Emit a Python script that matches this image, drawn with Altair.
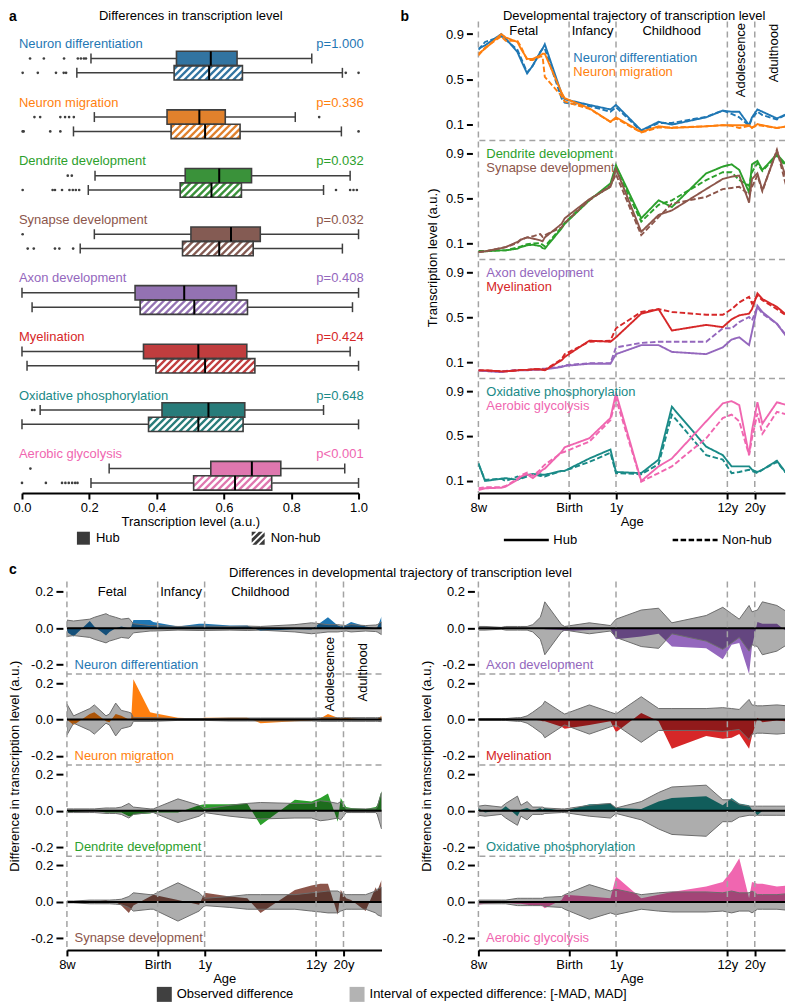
import colorsys
import altair as alt
import pandas as pd

# ------------------------------------------------------------------ data
groups = ["Neuron differentiation", "Neuron migration", "Dendrite development",
          "Synapse development", "Axon development", "Myelination",
          "Oxidative phosphorylation", "Aerobic glycolysis"]
series_colors = ["#1f77b4", "#ff7f0e", "#2ca02c", "#8c564b",
                 "#9467bd", "#d62728", "#1a8a87", "#f066b0"]
p_values = ["p=1.000", "p=0.336", "p=0.032", "p=0.032",
            "p=0.408", "p=0.424", "p=0.648", "p<0.001"]
kinds = ["Hub", "Non-hub"]
titles = ["Differences in transcription level",
          "Developmental trajectory of transcription level",
          "Differences in developmental trajectory of transcription level"]

# panel a: box-plot summaries
hub_q1 = [0.459, 0.431, 0.485, 0.502, 0.336, 0.361, 0.416, 0.561]
hub_median = [0.561, 0.527, 0.586, 0.621, 0.482, 0.524, 0.554, 0.683]
hub_q3 = [0.639, 0.604, 0.682, 0.708, 0.637, 0.668, 0.662, 0.769]
hub_whisker_low = [0.205, 0.215, 0.217, 0.215, 0.0, 0.0, 0.054, 0.259]
hub_whisker_high = [0.861, 0.812, 0.975, 1.0, 1.0, 0.975, 0.896, 0.959]
hub_outliers = [[0.024, 0.065, 0.125, 0.166, 0.175, 0.184, 0.19],
                [0.037, 0.054, 0.114, 0.128, 0.140, 0.154, 0.883],
                [0.136, 0.148], [0.002], [], [], [0.030, 0.037], [0.025]]
nonhub_q1 = [0.452, 0.443, 0.470, 0.477, 0.351, 0.398, 0.376, 0.510]
nonhub_median = [0.556, 0.544, 0.563, 0.586, 0.512, 0.544, 0.524, 0.633]
nonhub_q3 = [0.655, 0.648, 0.652, 0.687, 0.670, 0.692, 0.657, 0.742]
nonhub_whisker_low = [0.163, 0.153, 0.197, 0.173, 0.03, 0.015, 0.0, 0.205]
nonhub_whisker_high = [0.952, 0.949, 0.896, 0.952, 0.982, 1.0, 1.0, 1.0]
nonhub_outliers = [[0.002, 0.047, 0.101, 0.124, 0.131, 0.962, 1.0],
                   [0.002, 0.005, 0.084, 0.114, 1.0],
                   [0.002, 0.091, 0.098, 0.119, 0.141, 0.151, 0.160, 0.170,
                    0.933, 0.975, 0.985, 0.995],
                   [0.017, 0.035, 0.098, 0.111, 0.152], [], [], [],
                   [0.0, 0.071, 0.119, 0.129, 0.139, 0.149, 0.158, 0.165]]

# ages (BrainSpan sampling points) and age ticks / phases
ages = ["8pcw", "9pcw", "12pcw", "13pcw", "16pcw", "17pcw", "19pcw", "21pcw",
        "24pcw", "25pcw", "26pcw", "35pcw", "37pcw", "4mos", "10mos", "1yrs",
        "2yrs", "3yrs", "4yrs", "8yrs", "11yrs", "13yrs", "15yrs", "18yrs",
        "19yrs", "21yrs", "23yrs", "30yrs", "36yrs", "37yrs", "40yrs"]
tick_names = ["8w", "Birth", "1y", "12y", "20y"]
tick_ages = ["8pcw", "40pcw", "1yrs", "12yrs", "20yrs"]
phase_names = ["Fetal", "Infancy", "Childhood", "Adolescence", "Adulthood"]

# panel b: trajectories (hub / non-hub)
nd_hub = [0.77, 0.80, 0.90, 0.86, 0.74, 0.67, 0.55, 0.62, 0.74, 0.77, 0.81, 0.37, 0.32, 0.27, 0.23, 0.27,
          0.044, 0.12, 0.095, 0.16, 0.22, 0.21, 0.21, 0.09, 0.16, 0.23, 0.21, 0.15, 0.19, 0.20, 0.21]
nd_nonhub = [0.76, 0.83, 0.88, 0.85, 0.76, 0.69, 0.56, 0.62, 0.74, 0.77, 0.77, 0.33, 0.29, 0.26, 0.21, 0.25,
             0.035, 0.11, 0.11, 0.165, 0.22, 0.19, 0.16, 0.085, 0.15, 0.21, 0.18, 0.14, 0.19, 0.195, 0.15]
nm_hub = [0.725, 0.77, 0.90, 0.87, 0.83, 0.77, 0.68, 0.68, 0.71, 0.725, 0.725, 0.38, 0.33, 0.24, 0.12, 0.16,
          0.03, 0.08, 0.065, 0.08, 0.09, 0.09, 0.09, 0.09, 0.065, 0.10, 0.09, 0.065, 0.08, 0.08, 0.073]
nm_nonhub = [0.71, 0.78, 0.88, 0.84, 0.84, 0.79, 0.67, 0.67, 0.70, 0.70, 0.52, 0.35, 0.30, 0.235, 0.12, 0.15,
             0.025, 0.07, 0.07, 0.08, 0.09, 0.085, 0.065, 0.085, 0.07, 0.09, 0.085, 0.065, 0.08, 0.08, 0.06]
dd_hub = [0.026, 0.026, 0.035, 0.035, 0.05, 0.064, 0.08, 0.085, 0.073, 0.055, 0.05, 0.23, 0.27, 0.48, 0.63, 0.79,
          0.32, 0.48, 0.42, 0.72, 0.78, 0.80, 0.75, 0.55, 0.80, 0.83, 0.75, 0.89, 0.79, 0.78, 0.83]
dd_nonhub = [0.03, 0.03, 0.035, 0.035, 0.06, 0.07, 0.09, 0.095, 0.10, 0.085, 0.07, 0.24, 0.28, 0.49, 0.60, 0.76,
             0.29, 0.44, 0.48, 0.66, 0.73, 0.73, 0.66, 0.61, 0.73, 0.81, 0.74, 0.88, 0.77, 0.75, 0.72]
sd_hub = [0.02, 0.026, 0.055, 0.064, 0.11, 0.13, 0.15, 0.14, 0.124, 0.115, 0.15, 0.27, 0.32, 0.49, 0.60, 0.76,
          0.20, 0.35, 0.39, 0.58, 0.67, 0.69, 0.70, 0.46, 0.67, 0.72, 0.57, 0.92, 0.66, 0.63, 0.73]
sd_nonhub = [0.02, 0.026, 0.055, 0.064, 0.10, 0.13, 0.15, 0.16, 0.18, 0.155, 0.17, 0.24, 0.28, 0.48, 0.61, 0.71,
             0.17, 0.33, 0.45, 0.51, 0.58, 0.59, 0.60, 0.53, 0.60, 0.70, 0.56, 0.93, 0.58, 0.57, 0.61]
ad_hub = [0.026, 0.02, 0.01, 0.017, 0.026, 0.026, 0.026, 0.03, 0.03, 0.035, 0.035, 0.055, 0.065, 0.085, 0.085, 0.17,
          0.25, 0.25, 0.19, 0.17, 0.23, 0.30, 0.32, 0.25, 0.37, 0.60, 0.545, 0.44, 0.32, 0.29, 0.28]
ad_nonhub = [0.026, 0.02, 0.015, 0.02, 0.03, 0.03, 0.03, 0.035, 0.035, 0.04, 0.04, 0.06, 0.07, 0.09, 0.09, 0.23,
             0.27, 0.28, 0.28, 0.28, 0.40, 0.40, 0.455, 0.50, 0.47, 0.59, 0.53, 0.44, 0.33, 0.30, 0.27]
my_hub = [0.026, 0.026, 0.017, 0.017, 0.026, 0.03, 0.03, 0.035, 0.035, 0.03, 0.026, 0.115, 0.145, 0.29, 0.28, 0.32,
          0.53, 0.57, 0.38, 0.43, 0.41, 0.48, 0.515, 0.53, 0.57, 0.71, 0.66, 0.59, 0.515, 0.50, 0.485]
my_nonhub = [0.026, 0.026, 0.017, 0.017, 0.026, 0.03, 0.03, 0.035, 0.035, 0.035, 0.03, 0.125, 0.17, 0.28, 0.29, 0.40,
             0.545, 0.57, 0.545, 0.52, 0.52, 0.57, 0.63, 0.68, 0.62, 0.69, 0.65, 0.57, 0.51, 0.50, 0.47]
op_hub = [0.26, 0.10, 0.12, 0.125, 0.11, 0.125, 0.155, 0.16, 0.16, 0.155, 0.155, 0.19, 0.19, 0.30, 0.38, 0.18,
          0.17, 0.29, 0.76, 0.405, 0.33, 0.23, 0.23, 0.23, 0.20, 0.18, 0.20, 0.28, 0.16, 0.18, 0.25]
op_nonhub = [0.25, 0.11, 0.12, 0.10, 0.14, 0.12, 0.14, 0.16, 0.145, 0.15, 0.14, 0.19, 0.19, 0.27, 0.35, 0.17,
             0.16, 0.25, 0.69, 0.33, 0.29, 0.17, 0.18, 0.20, 0.19, 0.17, 0.20, 0.27, 0.16, 0.17, 0.57]
ag_hub = [0.02, 0.035, 0.04, 0.05, 0.11, 0.14, 0.16, 0.125, 0.18, 0.20, 0.21, 0.36, 0.40, 0.48, 0.66, 0.88,
          0.10, 0.23, 0.30, 0.63, 0.79, 0.81, 0.775, 0.33, 0.55, 0.80, 0.61, 0.80, 0.775, 0.78, 0.835]
ag_nonhub = [0.035, 0.045, 0.045, 0.055, 0.12, 0.15, 0.175, 0.145, 0.20, 0.225, 0.245, 0.35, 0.36, 0.45, 0.64, 0.83,
             0.095, 0.17, 0.23, 0.48, 0.66, 0.69, 0.63, 0.33, 0.48, 0.70, 0.52, 0.715, 0.69, 0.69, 0.48]

# panel c: observed difference and MAD of expected difference
nd_diff = [-0.02, -0.045, 0.04, 0.01, -0.04, -0.02, 0.0, 0.01, 0.0, 0.005, 0.045, 0.045, 0.035, 0.01, 0.025, 0.025,
           0.015, 0.015, -0.015, -0.005, -0.007, 0.03, 0.06, 0.015, 0.01, 0.02, 0.035, 0.01, 0.0, 0.005, 0.065]
nd_mad = [0.045, 0.04, 0.05, 0.06, 0.08, 0.07, 0.06, 0.05, 0.055, 0.04, 0.025, 0.015, 0.015, 0.01, 0.012, 0.012,
          0.01, 0.012, 0.01, 0.02, 0.03, 0.025, 0.02, 0.02, 0.018, 0.015, 0.02, 0.015, 0.018, 0.02, 0.035]
nm_diff = [0.0, -0.03, 0.03, 0.04, -0.01, -0.015, 0.03, 0.02, 0.0, 0.0, 0.22, 0.04, 0.035, 0.01, 0.005, 0.01,
           0.01, 0.01, -0.02, -0.01, -0.005, 0.005, 0.03, 0.01, 0.005, 0.01, 0.005, 0.0, 0.0, 0.0, 0.02]
nm_mad = [0.085, 0.02, 0.06, 0.08, 0.02, 0.03, 0.09, 0.05, 0.04, 0.035, 0.01, 0.01, 0.01, 0.005, 0.005, 0.005,
          0.008, 0.008, 0.008, 0.008, 0.008, 0.01, 0.01, 0.01, 0.01, 0.01, 0.01, 0.01, 0.01, 0.01, 0.012]
dd_diff = [-0.01, -0.005, 0.0, 0.0, -0.01, -0.01, -0.01, -0.01, -0.03, -0.03, -0.02, -0.015, -0.01, -0.01, 0.03, 0.035,
           0.035, 0.04, -0.08, 0.06, 0.05, 0.07, 0.095, -0.06, 0.07, 0.02, 0.015, 0.01, 0.02, 0.03, 0.11]
dd_mad = [0.01, 0.01, 0.01, 0.01, 0.015, 0.015, 0.015, 0.02, 0.04, 0.03, 0.02, 0.01, 0.01, 0.065, 0.03, 0.01,
          0.03, 0.04, 0.045, 0.04, 0.04, 0.055, 0.05, 0.04, 0.05, 0.01, 0.01, 0.01, 0.01, 0.02, 0.1]
sd_diff = [0.0, 0.0, 0.0, 0.0, 0.01, 0.0, 0.0, -0.02, -0.06, -0.04, -0.02, 0.03, 0.04, 0.01, -0.015, 0.05,
           0.03, 0.02, -0.06, 0.065, 0.09, 0.1, 0.1, -0.07, 0.065, 0.02, 0.01, -0.05, 0.08, 0.06, 0.12]
sd_mad = [0.005, 0.005, 0.01, 0.01, 0.01, 0.01, 0.012, 0.015, 0.03, 0.04, 0.05, 0.04, 0.04, 0.105, 0.05, 0.02,
          0.03, 0.04, 0.04, 0.04, 0.05, 0.055, 0.06, 0.06, 0.05, 0.04, 0.04, 0.04, 0.06, 0.07, 0.08]
ad_diff = [0.0, 0.0, 0.0, 0.0, 0.0, 0.0, 0.0, 0.0, 0.0, 0.0, -0.005, -0.01, -0.015, -0.01, -0.005, -0.06,
           -0.045, -0.03, -0.1, -0.11, -0.17, -0.09, -0.08, -0.25, -0.1, 0.035, 0.025, 0.025, -0.02, -0.01, 0.05]
ad_mad = [0.01, 0.01, 0.005, 0.01, 0.01, 0.01, 0.01, 0.02, 0.06, 0.1, 0.145, 0.02, 0.01, 0.03, 0.015, 0.05,
          0.1, 0.11, 0.03, 0.07, 0.115, 0.08, 0.05, 0.125, 0.09, 0.1, 0.145, 0.125, 0.09, 0.135, 0.06]
my_diff = [0.0, 0.0, 0.0, 0.0, 0.0, 0.0, 0.0, 0.0, -0.005, -0.01, -0.01, -0.04, -0.05, -0.03, -0.01, -0.07,
           0.035, -0.01, -0.16, -0.09, -0.105, -0.1, -0.08, -0.16, -0.09, 0.01, -0.015, -0.005, -0.01, -0.005, 0.03]
my_mad = [0.005, 0.005, 0.005, 0.005, 0.01, 0.01, 0.02, 0.04, 0.07, 0.08, 0.1, 0.04, 0.03, 0.08, 0.04, 0.03,
          0.125, 0.06, 0.06, 0.06, 0.065, 0.06, 0.055, 0.11, 0.08, 0.075, 0.075, 0.08, 0.075, 0.06, 0.03]
op_diff = [0.015, -0.01, 0.005, 0.025, -0.03, 0.005, 0.015, 0.0, 0.015, 0.005, 0.015, 0.0, 0.0, 0.035, 0.04, 0.015,
           0.01, 0.05, 0.07, 0.08, 0.03, 0.07, 0.04, 0.03, 0.005, -0.025, 0.0, 0.0, 0.005, 0.01, -0.3]
op_mad = [0.025, 0.03, 0.02, 0.04, 0.08, 0.03, 0.05, 0.02, 0.02, 0.02, 0.015, 0.01, 0.01, 0.03, 0.04, 0.015,
          0.05, 0.1, 0.13, 0.14, 0.06, 0.06, 0.035, 0.025, 0.025, 0.025, 0.025, 0.025, 0.025, 0.03, 0.17]
ag_diff = [-0.015, -0.01, -0.005, -0.005, -0.01, -0.01, -0.015, -0.02, -0.02, -0.025, -0.035, 0.01, 0.04, 0.03, 0.02, 0.14,
           0.02, 0.04, 0.055, 0.085, 0.11, 0.17, 0.24, 0.02, 0.11, 0.1, 0.1, 0.085, 0.09, 0.09, 0.23]
ag_mad = [0.01, 0.01, 0.01, 0.01, 0.02, 0.02, 0.02, 0.02, 0.02, 0.02, 0.025, 0.03, 0.04, 0.095, 0.06, 0.07,
          0.04, 0.05, 0.055, 0.055, 0.05, 0.06, 0.05, 0.05, 0.06, 0.04, 0.04, 0.04, 0.045, 0.05, 0.15]

c_legend_names = ["Observed difference", "Interval of expected difference: [-MAD, MAD]"]

traj_hub = [nd_hub, nm_hub, dd_hub, sd_hub, ad_hub, my_hub, op_hub, ag_hub]
traj_nonhub = [nd_nonhub, nm_nonhub, dd_nonhub, sd_nonhub, ad_nonhub, my_nonhub, op_nonhub, ag_nonhub]
diffs = [nd_diff, nm_diff, dd_diff, sd_diff, ad_diff, my_diff, op_diff, ag_diff]
mads = [nd_mad, nm_mad, dd_mad, sd_mad, ad_mad, my_mad, op_mad, ag_mad]
for lst in traj_hub + traj_nonhub + diffs + mads:
    assert len(lst) == len(ages), len(lst)

# ------------------------------------------------------------------ style / helpers
FONT = "Liberation Sans"
FS = 13
EDGE = "#3f3f3f"
GRID = "#a3a3a3"
DASH = [6, 4]
PX_PER_DECADE = 129.9


def desaturate(hex_color, prop=0.75):
    r, g, b = [int(hex_color[i:i + 2], 16) / 255 for i in (1, 3, 5)]
    h, l, s = colorsys.rgb_to_hls(r, g, b)
    r, g, b = colorsys.hls_to_rgb(h, l, s * prop)
    return "#%02x%02x%02x" % tuple(int(round(c * 255)) for c in (r, g, b))


def pc_years(tag):
    if tag.endswith("pcw"):
        return int(tag[:-3]) / 52.0
    if tag.endswith("mos"):
        return 40 / 52.0 + int(tag[:-3]) / 12.0
    return 40 / 52.0 + int(tag[:-3])


age_x = [pc_years(a) for a in ages]
bound_x = [pc_years(a) for a in tick_ages]
edges = bound_x + [age_x[-1]]
phase_x = [(edges[i] * edges[i + 1]) ** 0.5 for i in range(5)]

x_expr = "'%s'" % tick_names[-1]
for i in range(len(tick_names) - 2, -1, -1):
    mid = (bound_x[i] * bound_x[i + 1]) ** 0.5
    x_expr = "(datum.value < %.5f ? '%s' : %s)" % (mid, tick_names[i], x_expr)


def age_scale(width):
    end = min(age_x[-1], age_x[0] * 10 ** (width / PX_PER_DECADE))
    return alt.Scale(type="log", domain=[age_x[0], end], nice=False, zero=False)


def age_axis():
    return alt.Axis(values=bound_x, labelExpr=x_expr, title="Age", domain=True, domainColor="black",
                    domainWidth=2, ticks=True, tickColor="black", tickWidth=2, tickSize=6,
                    labelPadding=3, titlePadding=1, labelFontSize=FS, titleFontSize=FS,
                    titleFontWeight="normal", grid=False, labelFlush=False, labelOverlap=False)


def letter(t, x, y):
    return alt.Chart(pd.DataFrame({"t": [t]})).mark_text(
        fontWeight="bold", fontSize=FS + 1, align="left", baseline="top", color="black"
    ).encode(x=alt.value(x), y=alt.value(y), text="t:N")


def title_mark(text, x, y):
    return alt.Chart(pd.DataFrame({"t": [text]})).mark_text(
        fontSize=FS, align="center", baseline="middle", color="black"
    ).encode(x=alt.value(x), y=alt.value(y), text="t:N")


# ------------------------------------------------------------------ panel a
A_W, A_H = 292, 472
A_RANGE = [-45, 292]
A_YMIN, A_YMAX = -0.384, 7.662
sx = (A_RANGE[1] - A_RANGE[0]) / 1.0
sy = A_H / (A_YMAX - A_YMIN)
OFFS = {"Hub": 0.245, "Non-hub": 0.49}
HALF, CAP = 0.1225, 0.085

box_rows, out_rows = [], []
for i, g in enumerate(groups):
    stats = {"Hub": (hub_q1[i], hub_median[i], hub_q3[i], hub_whisker_low[i], hub_whisker_high[i], hub_outliers[i]),
             "Non-hub": (nonhub_q1[i], nonhub_median[i], nonhub_q3[i], nonhub_whisker_low[i],
                         nonhub_whisker_high[i], nonhub_outliers[i])}
    for kind in kinds:
        q1, med, q3, lo, hi, outs = stats[kind]
        yc = i + OFFS[kind]
        box_rows.append(dict(group=g, kind=kind, q1=q1, med=med, q3=q3, lo=lo, hi=hi, yc=yc,
                             ytop=yc - HALF, ybot=yc + HALF, ctop=yc - CAP, cbot=yc + CAP,
                             fill=desaturate(series_colors[i])))
        for o in outs:
            out_rows.append(dict(x=o, yc=yc))
df_box = pd.DataFrame(box_rows)
df_out = pd.DataFrame(out_rows)

step = 7.0 / sx
hatch = []
for r in box_rows:
    if r["kind"] != "Non-hub":
        continue
    dx = (r["ybot"] - r["ytop"]) * sy / sx
    x0 = r["q1"] - dx
    while x0 < r["q3"]:
        t0 = max(0.0, (r["q1"] - x0) / dx)
        t1 = min(1.0, (r["q3"] - x0) / dx)
        if t1 > t0:
            hatch.append(dict(x=x0 + t0 * dx, x2=x0 + t1 * dx,
                              y=r["ybot"] + t0 * (r["ytop"] - r["ybot"]),
                              y2=r["ybot"] + t1 * (r["ytop"] - r["ybot"])))
        x0 += step
df_hatch = pd.DataFrame(hatch)

df_alab = pd.DataFrame({"text": groups, "p": p_values, "y": list(range(8)),
                        "x": [-0.009] * 8, "xp": [1.015] * 8, "color": series_colors})

xsA = alt.Scale(domain=[0, 1], range=A_RANGE, nice=False, zero=False)
ysA = alt.Scale(domain=[A_YMIN, A_YMAX], reverse=True, nice=False, zero=False)
axA = alt.Axis(values=[0, 0.2, 0.4, 0.6, 0.8, 1.0], format=".1f", title="Transcription level (a.u.)",
               domainColor="black", domainWidth=2, tickColor="black", tickWidth=2, tickSize=6,
               labelPadding=3, titlePadding=1, labelFontSize=FS, titleFontSize=FS,
               titleFontWeight="normal", grid=False, labelFlush=False)


def XA(f):
    return alt.X(f + ":Q", scale=xsA, axis=axA)


def YA(f):
    return alt.Y(f + ":Q", scale=ysA, axis=None)


def band_path(a, b):
    poly = [(-1, -1), (1, -1), (1, 1), (-1, 1)]

    def clip(pts, keep, inter):
        res = []
        for j in range(len(pts)):
            p, q = pts[j], pts[(j + 1) % len(pts)]
            kp, kq = keep(p), keep(q)
            if kp:
                res.append(p)
            if kp != kq:
                res.append(inter(p, q))
        return res

    def mk(c, ge):
        keep = (lambda p: p[0] + p[1] >= c) if ge else (lambda p: p[0] + p[1] <= c)

        def inter(p, q):
            sp, sq = p[0] + p[1], q[0] + q[1]
            t = (c - sp) / (sq - sp)
            return (p[0] + t * (q[0] - p[0]), p[1] + t * (q[1] - p[1]))
        return keep, inter

    poly = clip(poly, *mk(a, True))
    if poly:
        poly = clip(poly, *mk(b, False))
    if len(poly) < 3:
        return ""
    return "M" + "L".join("%.3f,%.3f" % pt for pt in poly) + "Z"


square_path = "M-1,-1L1,-1L1,1L-1,1Z"
hatch_path = "".join(band_path(a, b) for a, b in [(-2.0, -1.3), (-0.9, -0.3), (0.1, 0.7), (1.1, 2.0)])

a_layers = [
    alt.Chart(df_box).mark_rule(color=EDGE, strokeWidth=1.5).encode(x=XA("lo"), x2="hi:Q", y=YA("yc")),
    alt.Chart(df_box).mark_rule(color=EDGE, strokeWidth=1.5).encode(x=XA("lo"), y=YA("ctop"), y2="cbot:Q"),
    alt.Chart(df_box).mark_rule(color=EDGE, strokeWidth=1.5).encode(x=XA("hi"), y=YA("ctop"), y2="cbot:Q"),
    alt.Chart(df_box).mark_rect().encode(x=XA("q1"), x2="q3:Q", y=YA("ytop"), y2="ybot:Q",
                                         color=alt.Color("fill:N", scale=None)),
    alt.Chart(df_hatch).mark_rule(color="white", strokeWidth=2.6).encode(
        x=XA("x"), x2="x2:Q", y=YA("y"), y2="y2:Q"),
    alt.Chart(df_box).mark_rect(fill="transparent", stroke=EDGE, strokeWidth=1.6).encode(
        x=XA("q1"), x2="q3:Q", y=YA("ytop"), y2="ybot:Q"),
    alt.Chart(df_box).mark_rule(color="black", strokeWidth=2).encode(x=XA("med"), y=YA("ytop"), y2="ybot:Q"),
    alt.Chart(df_out).mark_circle(size=7, color=EDGE, opacity=1).encode(x=XA("x"), y=YA("yc")),
    alt.Chart(df_alab).mark_text(align="left", baseline="middle", fontSize=FS).encode(
        x=XA("x"), y=YA("y"), text="text:N", color=alt.Color("color:N", scale=None)),
    alt.Chart(df_alab).mark_text(align="right", baseline="middle", fontSize=FS).encode(
        x=XA("xp"), y=YA("y"), text="p:N", color=alt.Color("color:N", scale=None)),
    alt.Chart(pd.DataFrame({"kind": kinds, "x": [0.5, 0.5], "y": [3.0, 3.0]})).mark_point(
        filled=True, opacity=0, color="#3a3a3a", size=169).encode(
        x=XA("x"), y=YA("y"),
        shape=alt.Shape("kind:N", scale=alt.Scale(domain=kinds, range=[square_path, hatch_path]),
                        legend=alt.Legend(title=None, orient="none", legendX=10, legendY=510.5,
                                          direction="horizontal", symbolSize=169,
                                          symbolFillColor="#3a3a3a", symbolStrokeWidth=0,
                                          symbolOpacity=1, labelOffset=6, columnPadding=132,
                                          labelFontSize=FS, padding=0))),
    title_mark(titles[0], 124, -5.5),
    letter("a", -58, -12),
]
chartA = alt.layer(*a_layers).properties(width=A_W, height=A_H)

# ------------------------------------------------------------------ panel b
STEP_B = 1.058
B_W, B_H = 307, 472
xsB = age_scale(B_W)
ysB = alt.Scale(domain=[-0.007, 4.185], nice=False, zero=False)
tickB = [round(v + j * STEP_B, 4) for j in range(4) for v in (0.1, 0.5, 0.9)]
yB_expr = "format(datum.value - floor((datum.value + 0.05) / %s) * %s, '.1f')" % (STEP_B, STEP_B)
axB_y = alt.Axis(values=tickB, labelExpr=yB_expr, title="Transcription level (a.u.)", domain=False,
                 ticks=True, tickColor="black", tickWidth=2, tickSize=6, offset=6, labelPadding=3,
                 titlePadding=6, labelFontSize=FS, titleFontSize=FS, titleFontWeight="normal",
                 grid=False, labelOverlap=False)
axB_x = age_axis()


def XB(f):
    return alt.X(f + ":Q", scale=xsB, axis=axB_x)


def YB(f):
    return alt.Y(f + ":Q", scale=ysB, axis=axB_y)


traj_rows = []
for gi, g in enumerate(groups):
    k = gi // 2
    off = (3 - k) * STEP_B
    for kind, vals in (("Non-hub", traj_nonhub[gi]), ("Hub", traj_hub[gi])):
        for a, v in zip(age_x, vals):
            traj_rows.append(dict(group=g, kind=kind, x=a, Y=v + off, color=series_colors[gi]))
df_traj = pd.DataFrame(traj_rows)

blab = []
for gi, g in enumerate(groups):
    k, j = gi // 2, gi % 2
    if k == 0:
        x, v = 0.83, 0.69 - 0.124 * j
    else:
        x, v = 0.177, 0.89 - 0.124 * j
    blab.append(dict(text=g, x=x, Y=v + (3 - k) * STEP_B, color=series_colors[gi]))
df_blab = pd.DataFrame(blab)

df_bounds = pd.DataFrame({"x": bound_x})
df_sepB = pd.DataFrame({"y": [1.011 + j * STEP_B for j in range(3)]})
df_phB = pd.DataFrame({"text": phase_names[:3], "x": phase_x[:3], "Y": [4.105] * 3})
df_phB2 = pd.DataFrame({"text": phase_names[3:], "x": phase_x[3:], "Y": [3.843, 3.905]})

dash_legend = alt.Legend(title=None, orient="none", legendX=39, legendY=510, direction="horizontal",
                         symbolType="M-3,0L3,0", symbolSize=225, symbolStrokeWidth=2.5,
                         symbolStrokeColor="black", labelOffset=18, columnPadding=90,
                         labelFontSize=FS, padding=0)

b_layers = [
    alt.Chart(df_bounds).mark_rule(color=GRID, strokeDash=DASH, strokeWidth=1.5).encode(x=XB("x")),
    alt.Chart(df_sepB).mark_rule(color=GRID, strokeDash=DASH, strokeWidth=1.5).encode(y=YB("y")),
    alt.Chart(df_traj).mark_line(strokeWidth=1.9, clip=True).encode(
        x=XB("x"), y=YB("Y"), color=alt.Color("color:N", scale=None), detail="group:N",
        strokeDash=alt.StrokeDash("kind:N", scale=alt.Scale(domain=kinds, range=[[1, 0], [5.5, 2.5]]),
                                  legend=dash_legend)),
    alt.Chart(df_phB).mark_text(fontSize=FS, baseline="middle", color="black").encode(
        x=XB("x"), y=YB("Y"), text="text:N"),
    alt.Chart(df_phB2).mark_text(fontSize=FS, baseline="middle", align="center", angle=270,
                                 color="black").encode(x=XB("x"), y=YB("Y"), text="text:N"),
    alt.Chart(df_blab).mark_text(fontSize=FS, baseline="middle", align="left").encode(
        x=XB("x"), y=YB("Y"), text="text:N", color=alt.Color("color:N", scale=None)),
    title_mark(titles[1], 156, -5.5),
    letter("b", -78, -12),
]
chartB = alt.layer(*b_layers).properties(width=B_W, height=B_H)

# ------------------------------------------------------------------ panel c
STEP_C = 0.5
C_H = 369
ysC = alt.Scale(domain=[-0.263, 1.757], nice=False, zero=False)
tickC = [round(v + j * STEP_C, 4) for j in range(4) for v in (-0.2, 0.0, 0.2)]
r_expr = "round((datum.value - floor((datum.value + 0.25) / 0.5) * 0.5) * 10)"
yC_expr = "(%s > 0.5 ? '0.2' : (%s < -0.5 ? '-0.2' : '0.0'))" % (r_expr, r_expr)


def c_chart(col, width):
    axy = alt.Axis(values=tickC, labelExpr=yC_expr, title="Difference in transcription level (a.u.)",
                   domain=False, ticks=True, tickColor="black", tickWidth=2, tickSize=7, offset=4,
                   labelPadding=3, titlePadding=9, labelFontSize=FS, titleFontSize=FS,
                   titleFontWeight="normal", grid=False, labelOverlap=False)
    axx = age_axis()
    xs = age_scale(width)

    def X(f):
        return alt.X(f + ":Q", scale=xs, axis=axx)

    def Y(f):
        return alt.Y(f + ":Q", scale=ysC, axis=axy)

    rows, labs = [], []
    for r in range(4):
        gi = col * 4 + r
        base = (3 - r) * STEP_C
        for a, d, m in zip(age_x, diffs[gi], mads[gi]):
            rows.append(dict(group=groups[gi], x=a, base=base, obs=base + d, hi=base + m, lo=base - m,
                             color=series_colors[gi]))
        labs.append(dict(text=groups[gi], x=0.176, Y=base - 0.2, color=series_colors[gi]))
    df = pd.DataFrame(rows)
    df_lab = pd.DataFrame(labs)
    layers = [
        alt.Chart(df).mark_area(clip=True).encode(
            x=X("x"), y=Y("obs"), y2="base:Q", color=alt.Color("color:N", scale=None), detail="group:N"),
        alt.Chart(df).mark_area(clip=True, fill="black", fillOpacity=0.32, stroke="#6c6c6c",
                                strokeOpacity=1, strokeWidth=1).encode(
            x=X("x"), y=Y("hi"), y2="lo:Q", detail="group:N"),
        alt.Chart(pd.DataFrame({"y": [j * STEP_C for j in range(4)]})).mark_rule(
            color="black", strokeWidth=2).encode(y=Y("y")),
        alt.Chart(df_bounds).mark_rule(color=GRID, strokeDash=DASH, strokeWidth=1.5).encode(x=X("x")),
        alt.Chart(pd.DataFrame({"y": [0.25 + j * STEP_C for j in range(3)]})).mark_rule(
            color=GRID, strokeDash=DASH, strokeWidth=1.5).encode(y=Y("y")),
        alt.Chart(df_lab).mark_text(fontSize=FS, baseline="middle", align="left").encode(
            x=X("x"), y=Y("Y"), text="text:N", color=alt.Color("color:N", scale=None)),
    ]
    if col == 0:
        layers += [
            alt.Chart(pd.DataFrame({"text": phase_names[:3], "x": phase_x[:3], "Y": [1.697] * 3})).mark_text(
                fontSize=FS, baseline="middle", color="black").encode(x=X("x"), y=Y("Y"), text="text:N"),
            alt.Chart(pd.DataFrame({"text": phase_names[3:], "x": phase_x[3:], "Y": [1.248, 1.259]})).mark_text(
                fontSize=FS, baseline="middle", align="center", angle=270, color="black").encode(
                x=X("x"), y=Y("Y"), text="text:N"),
            alt.Chart(pd.DataFrame({"kind": c_legend_names, "x": [1.0, 1.0], "y": [0.0, 0.0]})).mark_point(
                filled=True, opacity=0, shape="square").encode(
                x=X("x"), y=Y("y"),
                fill=alt.Fill("kind:N", scale=alt.Scale(domain=c_legend_names, range=["#404040", "#b3b3b3"]),
                              legend=alt.Legend(title=None, orient="none", legendX=90, legendY=406,
                                                direction="horizontal", symbolType="square",
                                                symbolSize=225, symbolStrokeWidth=0, symbolOpacity=1,
                                                labelOffset=5, columnPadding=56, labelLimit=400,
                                                labelFontSize=FS, padding=0))),
            title_mark(titles[2], 334, -8),
            letter("c", -58, -18),
        ]
    return alt.layer(*layers).properties(width=width, height=C_H)


chartCL = c_chart(0, 315)
chartCR = c_chart(1, 307)

# ------------------------------------------------------------------ assemble
row1 = alt.hconcat(chartA, chartB, spacing=120, bounds="flush").resolve_scale(
    shape="independent", strokeDash="independent").resolve_legend(shape="independent", strokeDash="independent")
row2 = alt.hconcat(chartCL, chartCR, spacing=97, bounds="flush").resolve_scale(
    fill="independent").resolve_legend(fill="independent")

chart = alt.vconcat(row1, row2, spacing=14.5).resolve_scale(
    shape="independent", strokeDash="independent", fill="independent"
).resolve_legend(shape="independent", strokeDash="independent", fill="independent").properties(
    padding=0
).configure(font=FONT).configure_view(stroke="transparent").configure_axis(
    labelFont=FONT, titleFont=FONT, labelColor="black", titleColor="black"
).configure_legend(labelFont=FONT, labelFontSize=FS, labelColor="black").configure_text(font=FONT)

chart.save("out.html", embed_options={"renderer": "svg", "actions": False})
